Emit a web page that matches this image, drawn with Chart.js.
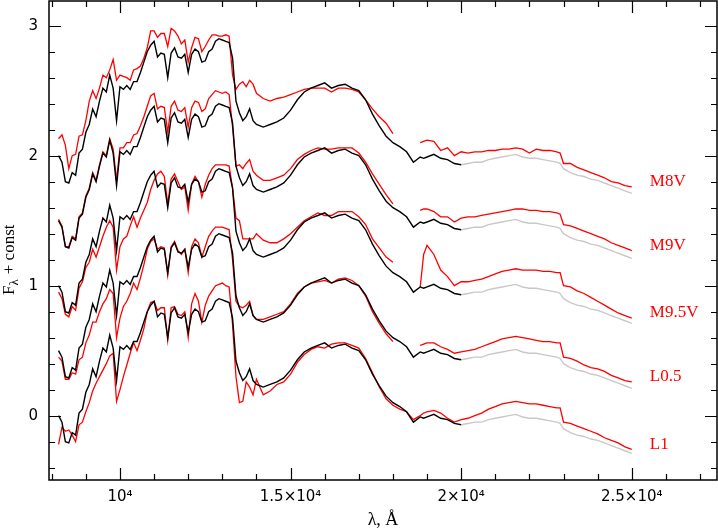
<!DOCTYPE html>
<html>
<head>
<meta charset="utf-8">
<script src="https://cdn.jsdelivr.net/npm/chart.js@4.4.0/dist/chart.umd.min.js"></script>
<style>
  html, body { margin: 0; padding: 0; background: #fff; }
</style>
</head>
<body>
<canvas id="chart" width="718" height="531"></canvas>
<script>
// wavelength grid, Angstrom
const lam = [
  8200, 8300, 8400, 8500, 8600, 8700, 8800, 8900,
  9000, 9100, 9200, 9300, 9400, 9500, 9600, 9700, 9800, 9900,
  10000, 10100, 10200, 10300, 10400, 10500, 10600, 10700, 10800, 10900,
  11000, 11100, 11200, 11300, 11400, 11500, 11600, 11700, 11800, 11900,
  12000, 12100, 12200, 12300, 12400, 12500, 12600, 12700, 12800, 12900,
  13000, 13100, 13200, 13300, 13400, 13500, 13600, 13700, 13800, 13900, 14000,
  14200, 14400, 14600, 14800, 15000, 15200, 15400, 15600, 15800, 16000,
  16200, 16400, 16600, 16800, 17000, 17200, 17400, 17600, 17800, 18000,
  18200, 18400, 18600, 18800, 18900, 19000, 19200, 19400, 19600, 19800, 20000,
  20200, 20400, 20600, 20800, 21000, 21200, 21400, 21600, 21800, 22000,
  22200, 22400, 22600, 22800, 22900, 23000, 23200, 23400, 23600, 23800, 24000,
  24200, 24400, 24600, 24800, 25000
];

// black comparison spectrum (up to 2e4 A), flux minus const
const model = [
  0.00, -0.05, -0.20, -0.21, -0.13, -0.15, 0.02, 0.05,
  0.18, 0.24, 0.36, 0.30, 0.42, 0.52, 0.49, 0.62, 0.52, 0.27,
  0.53, 0.51, 0.54, 0.51, 0.57, 0.57, 0.64, 0.72, 0.80, 0.85,
  0.88, 0.76, 0.79, 0.78, 0.60, 0.79, 0.83, 0.76, 0.75, 0.78,
  0.64, 0.78, 0.82, 0.80, 0.72, 0.73, 0.80, 0.82, 0.88, 0.90,
  0.89, 0.88, 0.87, 0.75, 0.42, 0.33, 0.27, 0.30, 0.36, 0.27, 0.24,
  0.22, 0.24, 0.26, 0.29, 0.35, 0.43, 0.49, 0.52, 0.54, 0.56,
  0.52, 0.54, 0.55, 0.52, 0.50, 0.43, 0.32, 0.23, 0.15, 0.10,
  0.07, 0.03, -0.05, -0.01, -0.02, -0.01, 0.01, -0.02, -0.03, -0.06, -0.07
];

// grey extension, from 2e4 A to 2.5e4 A
const modelExt = [
  -0.07,
  -0.06, -0.05, -0.05, -0.03, -0.02, -0.01, 0.00, 0.01, -0.01, -0.02,
  -0.02, -0.03, -0.04, -0.05, -0.06, -0.10, -0.13, -0.15, -0.16, -0.18, -0.19,
  -0.21, -0.23, -0.25, -0.27, -0.29
];

// observed spectra (red), flux minus const
const m8v = [
  0.13, 0.16, 0.08, -0.10, 0.00, 0.01, 0.15, 0.16,
  0.27, 0.42, 0.50, 0.44, 0.52, 0.62, 0.60, 0.66, 0.74, 0.58,
  0.62, 0.61, 0.60, 0.58, 0.66, 0.67, 0.69, 0.75, 0.83, 0.96,
  0.96, 0.91, 0.94, 0.94, 0.84, 0.98, 0.96, 0.92, 0.86, 0.89,
  0.72, 0.83, 0.91, 0.90, 0.80, 0.84, 0.89, 0.93, 0.93, 0.92,
  0.92, 0.93, 0.92, 0.62, 0.51, 0.55, 0.57, 0.53, 0.58, 0.55, 0.48,
  0.44, 0.42, 0.44, 0.45, 0.47, 0.49, 0.51, 0.52, 0.52, 0.52,
  0.49, 0.52, 0.52, 0.51, 0.49, 0.43, 0.36, 0.30, 0.25, 0.17,
  null, null, null, 0.10, 0.11, 0.12, 0.11, 0.04, 0.06, 0.00, 0.03,
  0.02, 0.03, 0.03, 0.04, 0.04, 0.05, 0.05, 0.06, 0.05, 0.02,
  0.05, 0.04, 0.04, 0.03, 0.02, -0.06, -0.06, -0.09, -0.11, -0.13, -0.15,
  -0.17, -0.20, -0.21, -0.23, -0.24
];
const m9v = [
  0.01, -0.04, -0.20, -0.20, -0.12, -0.14, 0.03, 0.06,
  0.19, 0.25, 0.37, 0.31, 0.43, 0.53, 0.50, 0.63, 0.55, 0.31,
  0.56, 0.56, 0.60, 0.60, 0.66, 0.67, 0.73, 0.80, 0.88, 0.96,
  0.98, 0.86, 0.88, 0.87, 0.68, 0.88, 0.92, 0.85, 0.84, 0.87,
  0.72, 0.87, 0.92, 0.91, 0.84, 0.86, 0.94, 0.97, 1.00, 0.99,
  0.98, 0.99, 0.97, 0.72, 0.42, 0.43, 0.40, 0.44, 0.47, 0.38, 0.35,
  0.31, 0.31, 0.33, 0.35, 0.40, 0.47, 0.51, 0.54, 0.56, 0.55,
  0.55, 0.56, 0.56, 0.56, 0.52, 0.45, 0.36, 0.28, 0.20, 0.13,
  null, null, null, 0.08, 0.09, 0.09, 0.07, 0.03, 0.03, -0.01, 0.02,
  0.03, 0.03, 0.04, 0.05, 0.06, 0.07, 0.08, 0.09, 0.09, 0.08,
  0.08, 0.07, 0.07, 0.06, 0.05, -0.03, -0.04, -0.06, -0.08, -0.10, -0.12,
  -0.14, -0.17, -0.19, -0.21, -0.23
];
const m95v = [
  -0.05, -0.10, -0.22, -0.24, -0.16, -0.19, -0.02, 0.03,
  0.14, 0.18, 0.28, 0.22, 0.30, 0.38, 0.45, 0.50, 0.45, 0.12,
  0.30, 0.36, 0.38, 0.46, 0.53, 0.45, 0.52, 0.58, 0.64, 0.74,
  0.81, 0.86, 0.88, 0.84, 0.63, 0.82, 0.86, 0.80, 0.74, 0.76,
  0.58, 0.78, 0.84, 0.80, 0.68, 0.78, 0.85, 0.90, 0.93, 0.93,
  0.93, 0.93, 0.92, 0.75, 0.52, 0.50, 0.36, 0.36, 0.36, 0.36, 0.40,
  0.35, 0.33, 0.33, 0.36, 0.40, 0.45, 0.50, 0.53, 0.56, 0.54,
  0.54, 0.57, 0.57, 0.57, 0.53, 0.47, 0.36, 0.29, 0.22, 0.18,
  null, null, null, -0.01, 0.24, 0.31, 0.24, 0.12, 0.07, 0.00, 0.03,
  0.03, 0.04, 0.05, 0.07, 0.09, 0.11, 0.12, 0.13, 0.12, 0.12,
  0.12, 0.11, 0.11, 0.10, 0.10, 0.00, -0.01, -0.04, -0.06, -0.09, -0.12,
  -0.15, -0.18, -0.21, -0.23, -0.25
];
const l05 = [
  -0.05, -0.08, -0.22, -0.22, -0.17, -0.18, -0.07, -0.05,
  0.06, 0.12, 0.22, 0.22, 0.30, 0.36, 0.40, 0.47, 0.44, 0.10,
  0.25, 0.34, 0.38, 0.44, 0.52, 0.47, 0.56, 0.66, 0.78, 0.84,
  0.86, 0.78, 0.80, 0.79, 0.58, 0.80, 0.84, 0.77, 0.74, 0.78,
  0.60, 0.80, 0.86, 0.83, 0.72, 0.80, 0.88, 0.92, 0.95, 0.95,
  0.95, 0.94, 0.93, 0.70, 0.38, 0.34, 0.33, 0.35, 0.38, 0.27, 0.24,
  0.24, 0.26, 0.28, 0.30, 0.36, 0.44, 0.49, 0.52, 0.53, 0.54,
  0.52, 0.55, 0.56, 0.54, 0.50, 0.42, 0.30, 0.21, 0.13, 0.07,
  null, null, null, 0.04, 0.05, 0.06, 0.06, 0.03, 0.01, -0.02, -0.01,
  0.00, 0.01, 0.03, 0.05, 0.07, 0.09, 0.10, 0.11, 0.10, 0.09,
  0.08, 0.07, 0.07, 0.06, 0.06, -0.05, -0.06, -0.08, -0.11, -0.13, -0.14,
  -0.16, -0.19, -0.21, -0.23, -0.24
];
const l1 = [
  -0.22, -0.09, -0.12, -0.11, -0.15, -0.20, -0.07, -0.05,
  0.03, 0.10, 0.19, 0.25, 0.30, 0.35, 0.40, 0.46, 0.48, 0.11,
  0.20, 0.30, 0.39, 0.48, 0.56, 0.50, 0.58, 0.67, 0.80, 0.87,
  0.88, 0.81, 0.83, 0.83, 0.58, 0.83, 0.84, 0.78, 0.77, 0.80,
  0.60, 0.86, 0.94, 0.88, 0.72, 0.85, 0.92, 0.96, 1.00, 1.01,
  1.02, 1.00, 0.99, 0.70, 0.30, 0.10, 0.11, 0.26, 0.22, 0.16, 0.28,
  0.16, 0.19, 0.24, 0.26, 0.32, 0.41, 0.47, 0.51, 0.53, 0.52,
  0.55, 0.56, 0.56, 0.54, 0.52, 0.44, 0.33, 0.22, 0.13, 0.08,
  0.05, 0.03, -0.03, 0.00, 0.02, 0.03, 0.04, 0.02, -0.02, -0.05, -0.03,
  -0.02, 0.00, 0.02, 0.05, 0.07, 0.09, 0.10, 0.11, 0.10, 0.09,
  0.09, 0.08, 0.07, 0.06, 0.06, -0.05, -0.06, -0.08, -0.10, -0.12, -0.14,
  -0.17, -0.19, -0.21, -0.24, -0.26
];

const names = ['M8V', 'M9V', 'M9.5V', 'L0.5', 'L1'];
const offsets = [2, 1.5, 1, 0.5, 0];
const observed = [m8v, m9v, m95v, l05, l1];

// axis ticks
const xTicks = [8000, 9000, 10000, 11000, 12000, 13000, 14000, 15000, 16000, 17000,
  18000, 19000, 20000, 21000, 22000, 23000, 24000, 25000, 26000, 27000];
const xMajor = [10000, 15000, 20000, 25000];
const xMajorLabels = ['10\u2074', '1.5\u00d710\u2074', '2\u00d710\u2074', '2.5\u00d710\u2074'];
const yTicks = [-0.4, -0.2, 0, 0.2, 0.4, 0.6, 0.8, 1, 1.2, 1.4, 1.6, 1.8, 2, 2.2, 2.4, 2.6, 2.8, 3];
const yMajor = [0, 1, 2, 3];
const yMajorLabels = ['0', '1', '2', '3'];
const labelLam = 25530;

const extStart = lam.indexOf(20000);
const datasets = [];
offsets.forEach(off => {
  datasets.push({
    data: model.map((v, i) => ({ x: lam[i], y: v + off })),
    borderColor: '#000000', borderWidth: 1.4, order: 0
  });
  datasets.push({
    data: modelExt.map((v, i) => ({ x: lam[extStart + i], y: v + off })),
    borderColor: '#c8c8c8', borderWidth: 1.4, order: 1
  });
});
observed.forEach((arr, k) => {
  datasets.push({
    data: arr.map((v, i) => ({ x: lam[i], y: v === null ? null : v + offsets[k] })),
    borderColor: '#ff0000', borderWidth: 1.3, order: 2
  });
});

const frame = {
  id: 'frame',
  afterDraw(chart) {
    const { ctx, chartArea: a, scales: { x, y } } = chart;
    ctx.save();
    ctx.strokeStyle = '#000';
    ctx.lineWidth = 1.5;
    ctx.strokeRect(a.left, a.top, a.right - a.left, a.bottom - a.top);

    // inward ticks on all four sides
    ctx.lineWidth = 1.2;
    ctx.beginPath();
    xTicks.forEach(v => {
      const px = Math.round(x.getPixelForValue(v)) + 0.5;
      const len = xMajor.includes(v) ? 12 : 6;
      ctx.moveTo(px, a.bottom); ctx.lineTo(px, a.bottom - len);
      ctx.moveTo(px, a.top); ctx.lineTo(px, a.top + len);
    });
    yTicks.forEach(v => {
      const py = Math.round(y.getPixelForValue(v)) + 0.5;
      const len = yMajor.includes(v) ? 12 : 6;
      ctx.moveTo(a.left, py); ctx.lineTo(a.left + len, py);
      ctx.moveTo(a.right, py); ctx.lineTo(a.right - len, py);
    });
    ctx.stroke();

    // tick labels
    ctx.fillStyle = '#000';
    ctx.font = '15px "DejaVu Sans"';
    ctx.textBaseline = 'middle';
    ctx.textAlign = 'center';
    xMajor.forEach((v, i) => ctx.fillText(xMajorLabels[i], x.getPixelForValue(v), a.bottom + 17));
    ctx.textAlign = 'right';
    yMajor.forEach((v, i) => ctx.fillText(yMajorLabels[i], 38, y.getPixelForValue(v)));

    // spectral type labels
    ctx.fillStyle = '#ff0000';
    ctx.font = '17px "Liberation Serif"';
    ctx.textAlign = 'left';
    observed.forEach((arr, k) => {
      const yv = arr[arr.length - 1] + offsets[k] + 0.04;
      ctx.fillText(names[k], x.getPixelForValue(labelLam), y.getPixelForValue(yv));
    });

    // axis titles
    ctx.fillStyle = '#000';
    ctx.textAlign = 'center';
    ctx.font = '18px "Liberation Serif"';
    ctx.fillText('\u03bb, \u00c5', (a.left + a.right) / 2, 520);

    ctx.translate(14, 295);
    ctx.rotate(-Math.PI / 2);
    ctx.textAlign = 'left';
    ctx.textBaseline = 'alphabetic';
    let pos = 0;
    ctx.font = '17px "Liberation Serif"';
    ctx.fillText('F', pos, 0);
    pos += ctx.measureText('F').width;
    ctx.font = '13px "Liberation Serif"';
    ctx.fillText('\u03bb', pos, 4);
    pos += ctx.measureText('\u03bb').width + 5;
    ctx.font = '17px "Liberation Serif"';
    ctx.fillText('+ const', pos, 0);
    ctx.restore();
  }
};

new Chart(document.getElementById('chart'), {
  type: 'line',
  data: { datasets },
  options: {
    responsive: false,
    devicePixelRatio: 1,
    animation: false,
    events: [],
    layout: { padding: { top: 1, right: 1, left: 49, bottom: 51 } },
    elements: { point: { radius: 0 }, line: { tension: 0, borderCapStyle: 'butt' } },
    plugins: { legend: { display: false }, tooltip: { enabled: false } },
    scales: {
      x: { type: 'linear', display: false, min: 7920, max: 27498 },
      y: { type: 'linear', display: false, min: -0.495, max: 3.19 }
    }
  },
  plugins: [frame]
});
</script>
</body>
</html>
